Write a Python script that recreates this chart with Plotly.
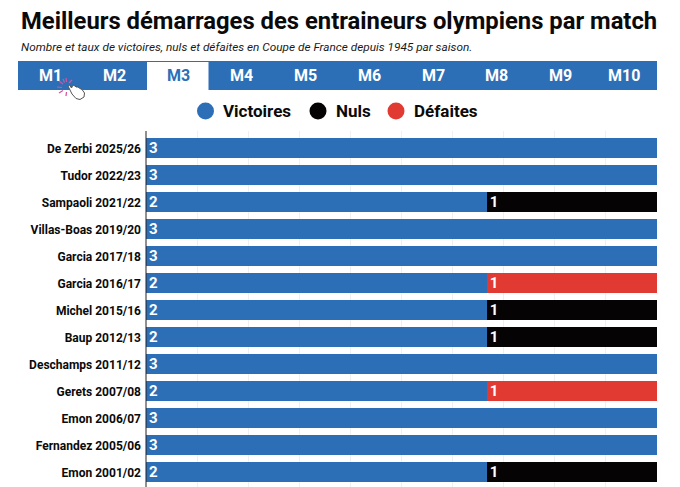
import plotly.graph_objects as go

# the page has an 8px body margin, figure is placed at (8, 8)
OFF = 8
W = 680
H = 487
L, R, T, B = 146, 657, 131, 487

coaches = ['De Zerbi 2025/26', 'Tudor 2022/23', 'Sampaoli 2021/22', 'Villas-Boas 2019/20',
           'Garcia 2017/18', 'Garcia 2016/17', 'Michel 2015/16', 'Baup 2012/13',
           'Deschamps 2011/12', 'Gerets 2007/08', 'Emon 2006/07', 'Fernandez 2005/06', 'Emon 2001/02']
victoires = [3, 3, 2, 3, 3, 2, 2, 2, 3, 2, 3, 3, 2]
nuls = [0, 0, 1, 0, 0, 0, 1, 1, 0, 0, 0, 0, 1]
defaites = [0, 0, 0, 0, 0, 1, 0, 0, 0, 1, 0, 0, 0]
tabs = ['M1', 'M2', 'M3', 'M4', 'M5', 'M6', 'M7', 'M8', 'M9', 'M10']
tab_centers = [50, 114, 178, 241, 305, 369, 433, 496, 560, 624]

BLUE = '#2c6fb7'
BLACK = '#050304'
RED = '#e03a32'
PINK = '#d9529b'
FONT = 'Roboto'

# page pixels to paper coordinates
def px(x):
    return (x - L) / (R - L)

def py(y):
    return (B - y) / (B - T)

def path(points):
    return 'M ' + ' L '.join(f'{px(x)} {py(y)}' for x, y in points) + ' Z'

def label(v):
    return [str(n) if n else '' for n in v]

fig = go.Figure()
for name, values, color in [('Victoires', victoires, BLUE), ('Nuls', nuls, BLACK), ('Défaites', defaites, RED)]:
    fig.add_trace(go.Bar(y=coaches, x=values, name=name, orientation='h', marker_color=color,
                         marker_line_width=0, text=label(values), textposition='inside', textangle=0,
                         insidetextanchor='start', constraintext='none',
                         textfont=dict(family=FONT, size=15, color='white', weight='bold')))

shapes = [
    dict(type='rect', x0=px(18), x1=px(657), y0=py(61), y1=py(90), fillcolor=BLUE, line_width=0),
    dict(type='rect', x0=px(147), x1=px(208.5), y0=py(62), y1=py(90.5), fillcolor='white', line_width=0),
    dict(type='line', x0=px(146), x1=px(146), y0=py(131), y1=py(487), line=dict(color='#222222', width=1)),
]
annotations = [
    dict(x=px(19), y=py(21.5), text='Meilleurs démarrages des entraineurs olympiens par match',
         font=dict(family=FONT, size=23.8, color='#0a0a0a', weight='bold')),
    dict(x=px(18.5), y=py(47), text='<i>Nombre et taux de victoires, nuls et défaites en Coupe de France depuis 1945 par saison.</i>',
         font=dict(family=FONT, size=11.8, color='#1a1a1a')),
]
for tab, cx in zip(tabs, tab_centers):
    annotations.append(dict(x=px(cx), y=py(75.5), text=tab, xanchor='center',
                            font=dict(family=FONT, size=16, weight='bold', color=BLUE if tab == 'M3' else 'white')))

for text, color, cx, tx in [('Victoires', BLUE, 205.5, 221), ('Nuls', BLACK, 318, 334), ('Défaites', RED, 396, 411.5)]:
    shapes.append(dict(type='circle', x0=px(cx - 8.5), x1=px(cx + 8.5), y0=py(102.5), y1=py(119.5),
                       fillcolor=color, line_width=0))
    annotations.append(dict(x=px(tx), y=py(111), text=text,
                            font=dict(family=FONT, size=17, weight='bold', color='#0a0a0a')))

# click cursor over the M1 tab
for x0, y0, x1, y1 in [(59, 81, 63, 84), (57, 87, 62, 87.5), (59, 93, 63, 90.5), (66, 96, 66.5, 92),
                       (66, 78, 66.5, 82), (72, 80, 69, 83), (63, 79, 64.5, 82.5)]:
    shapes.append(dict(type='line', x0=px(x0), y0=py(y0), x1=px(x1), y1=py(y1), line=dict(color=PINK, width=1.2)))
hand = [(68, 86), (69.5, 85), (71.5, 88), (73, 85), (75, 86), (76, 87), (78, 87), (80, 88.5), (82, 89.5),
        (84.5, 93), (84, 97), (80, 99.5), (76, 98.5), (72, 94), (70, 90)]
shapes.append(dict(type='path', path=path(hand), fillcolor='white', line=dict(color='#555555', width=1)))

for a in annotations:
    a.update(xref='paper', yref='paper', showarrow=False, xanchor=a.get('xanchor', 'left'), yanchor='middle')
for s in shapes:
    s.update(xref='paper', yref='paper')

fig.update_layout(
    width=W - 2 * OFF, height=H - OFF, barmode='stack', barnorm='percent', bargap=0.26,
    margin=dict(l=L - OFF, r=W - OFF - R, t=T - OFF, b=0, pad=0),
    paper_bgcolor='white', plot_bgcolor='white', showlegend=False,
    shapes=shapes, annotations=annotations,
)
fig.update_xaxes(range=[0, 100], dtick=10, showticklabels=False, ticks='', showgrid=True,
                 gridcolor='#f0f0f0', gridwidth=1, zeroline=False)
fig.update_yaxes(type='category', categoryorder='array', categoryarray=coaches, range=[12.54, -0.646],
                 showline=False, showgrid=False, ticks='', ticklabelstandoff=4,
                 tickfont=dict(family=FONT, size=12, color='#0a0a0a', weight='bold'))

fig.write_html('out.html')
